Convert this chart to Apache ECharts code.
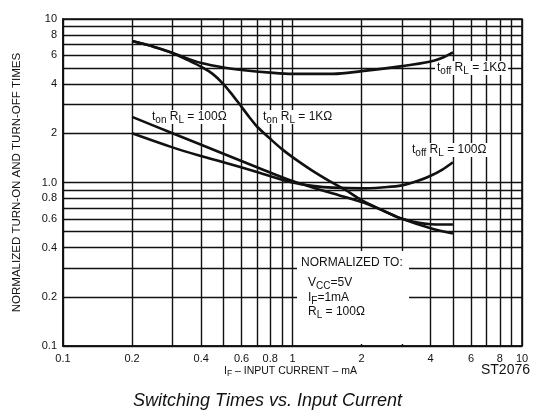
<!DOCTYPE html>
<html><head><meta charset="utf-8">
<script src="https://cdn.jsdelivr.net/npm/echarts@6/dist/echarts.min.js"></script>
<style>html,body{margin:0;padding:0;background:#fff}#c{width:535px;height:415px}</style>
</head><body><div id="c"></div>
<script>
// ---- data ----
const xGridValues = [0.1,0.2,0.3,0.4,0.5,0.6,0.7,0.8,0.9,1,2,3,4,5,6,7,8,9,10];
const xLabelValues = [0.1,0.2,0.4,0.6,0.8,1,2,4,6,8,10];
const yGridValues = [0.1,0.2,0.3,0.4,0.5,0.6,0.7,0.8,0.9,1,2,3,4,5,6,7,8,9,10];
const yLabelValues = [0.1,0.2,0.4,0.6,0.8,1,2,4,6,8,10];

// t_off, R_L = 1K
const toff1kCurrent = [0.2,0.25,0.3,0.35,0.4,0.5,0.6,0.8,1,1.5,2,3,4,4.5,5];
const toff1kTime    = [7.33,6.75,6.2,5.72,5.38,5.05,4.88,4.7,4.62,4.62,4.8,5.15,5.5,5.8,6.25];
// t_on, R_L = 1K
const ton1kCurrent = [0.2,0.25,0.3,0.35,0.4,0.45,0.5,0.55,0.6,0.65,0.7,0.8,0.9,1,1.2,1.45,1.7,2,2.5,3,4,5];
const ton1kTime    = [7.33,6.75,6.2,5.6,5.1,4.6,4.0,3.4,2.9,2.5,2.2,1.85,1.6,1.43,1.2,1.02,0.9,0.78,0.67,0.6,0.525,0.487];
// t_on, R_L = 100
const ton100Current = [0.2,0.3,0.4,0.5,0.7,1,1.4,2,2.5,3,4,4.5,5];
const ton100Time    = [2.52,2.0,1.7,1.5,1.24,1.02,0.88,0.76,0.67,0.6,0.555,0.553,0.553];
// t_off, R_L = 100
const toff100Current = [0.2,0.3,0.4,0.5,0.7,1,1.25,1.5,2,2.5,3,3.5,4,4.5,5];
const toff100Time    = [2.0,1.64,1.45,1.33,1.16,1.0,0.95,0.93,0.92,0.935,0.96,1.02,1.1,1.2,1.33];

const zip = (a, b) => a.map((v, i) => [v, b[i]]);
const F = '"Liberation Sans", Arial, Helvetica, sans-serif';
const INK = '#111';

const chart = echarts.init(document.getElementById('c'), null, {renderer: 'canvas'});

const rich = {
  m: {fontSize: 12, fontFamily: F, fill: INK, lineHeight: 14},
  s: {fontSize: 10, fontFamily: F, fill: INK, lineHeight: 10, padding: [6, 0, 0, 0]}
};
const richSmall = {
  m: {fontSize: 10.5, fontFamily: F, fill: INK, lineHeight: 13},
  s: {fontSize: 8.5, fontFamily: F, fill: INK, lineHeight: 9, padding: [5, 0, 0, 0]}
};
function label(text, left, top, bg, r) {
  return {
    type: 'text', left: left, top: top, z: 10,
    style: {
      text: text, rich: r || rich, fill: INK, font: '12px ' + F,
      backgroundColor: bg ? '#fff' : null, padding: bg ? [0, 2, 0, 2] : 0
    }
  };
}
const fmt = v => {
  const r = Number(Number(v).toPrecision(3));
  return r === 1 ? '1' : String(r);
};
const fmtY = v => {
  const r = Number(Number(v).toPrecision(3));
  return r === 1 ? '1.0' : String(r);
};

const lineSeries = (name, cur, time) => ({
  name: name, type: 'line', data: zip(cur, time), symbol: 'none', smooth: 0.35,
  z: 20,
  lineStyle: {color: INK, width: 2.6}
});

chart.setOption({
  animation: false,
  backgroundColor: '#fff',
  title: {
    text: 'Switching Times vs. Input Current', left: 'center', top: 387,
    textStyle: {fontFamily: F, fontStyle: 'italic', fontWeight: 'normal', fontSize: 18, color: INK}
  },
  grid: {left: 63, right: 13, top: 19, bottom: 69, show: true, borderColor: INK, borderWidth: 1.6, backgroundColor: 'transparent'},
  xAxis: {
    type: 'log', logBase: 10, min: 0.1, max: 10,
    axisLine: {show: true, lineStyle: {color: INK, width: 1.6}},
    axisTick: {show: false, customValues: xGridValues},
    axisLabel: {customValues: xLabelValues, formatter: fmt, color: INK, fontSize: 11, fontFamily: F, margin: 7},
    splitLine: {show: true, lineStyle: {color: INK, width: 1.4}}
  },
  yAxis: {
    type: 'log', logBase: 10, min: 0.1, max: 10,
    name: 'NORMALIZED TURN-ON AND TURN-OFF TIMES', nameLocation: 'middle', nameGap: 40,
    nameTextStyle: {fontFamily: F, fontSize: 11.5, color: INK},
    axisLine: {show: true, lineStyle: {color: INK, width: 1.6}},
    axisTick: {show: false, customValues: yGridValues},
    axisLabel: {customValues: yLabelValues, formatter: fmtY, color: INK, fontSize: 11, fontFamily: F, margin: 6},
    splitLine: {show: true, lineStyle: {color: INK, width: 1.4}}
  },
  graphic: [
    label('{m|t}{s|off}{m| R}{s|L}{m| = 1KΩ}', 435, 60, true),
    label('{m|t}{s|on}{m| R}{s|L}{m| = 100Ω}', 150, 109, true),
    label('{m|t}{s|on}{m| R}{s|L}{m| = 1KΩ}', 261, 109, true),
    label('{m|t}{s|off}{m| R}{s|L}{m| = 100Ω}', 410, 142, true),
    {type: 'rect', z: 5, shape: {x: 297, y: 251, width: 112, height: 93}, style: {fill: '#fff'}},
    label('{m|NORMALIZED TO:}', 301, 257, false),
    label('{m|V}{s|CC}{m|=5V}', 308, 275, false),
    label('{m|I}{s|F}{m|=1mA}', 308, 290, false),
    label('{m|R}{s|L}{m| = 100Ω}', 308, 304, false),
    label('{m|I}{s|F}{m| – INPUT CURRENT – mA}', 224, 364, false, richSmall),
    {type: 'text', right: 5, top: 363, z: 10, style: {text: 'ST2076', font: '14px ' + F, fill: INK}}
  ],
  series: [
    lineSeries('toff 1K', toff1kCurrent, toff1kTime),
    lineSeries('ton 1K', ton1kCurrent, ton1kTime),
    lineSeries('ton 100', ton100Current, ton100Time),
    lineSeries('toff 100', toff100Current, toff100Time)
  ]
});
</script></body></html>
